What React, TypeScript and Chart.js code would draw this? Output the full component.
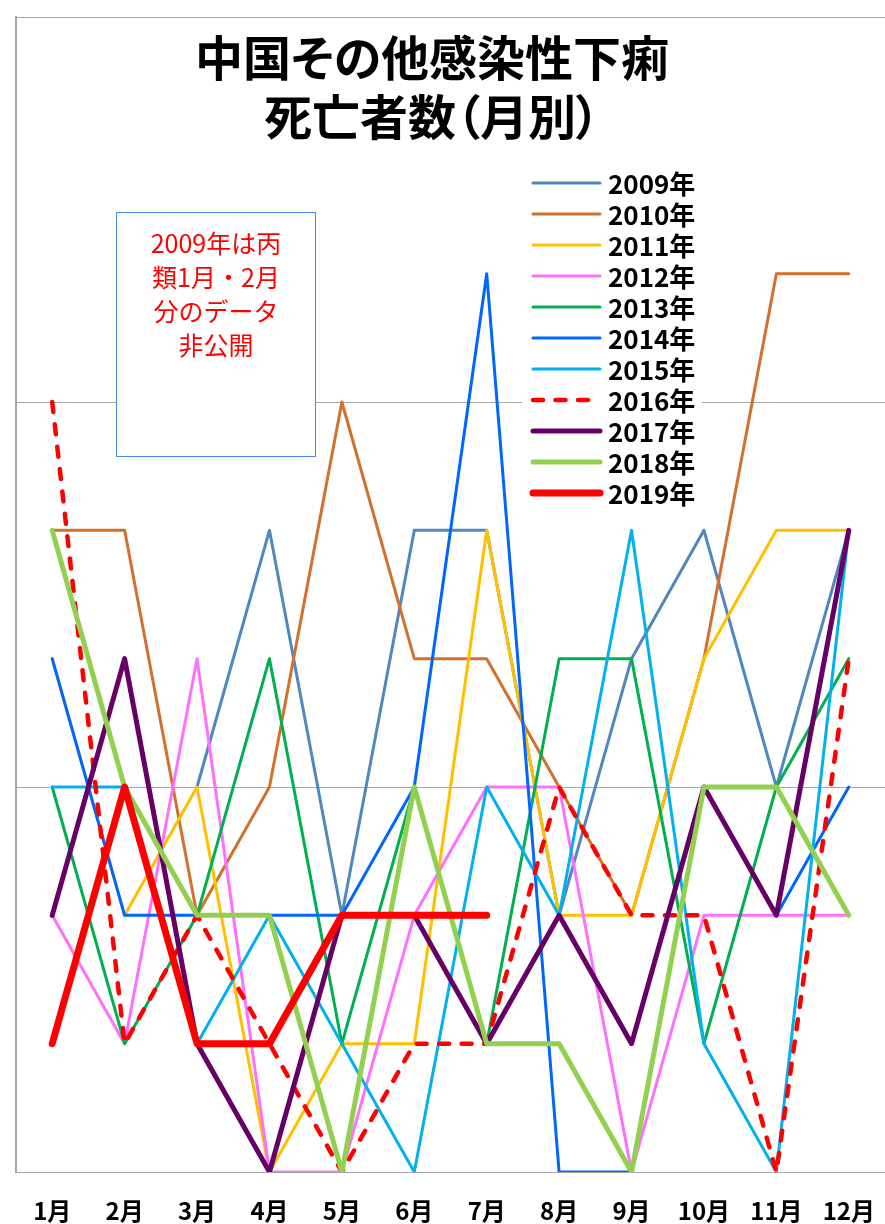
import React, { useEffect, useRef } from "react";
import { Chart, registerables } from "chart.js";

Chart.register(...registerables);

const months = ["1月", "2月", "3月", "4月", "5月", "6月", "7月", "8月", "9月", "10月", "11月", "12月"];

const yr2009 = [null, null, 3, 5, 2, 5, 5, 2, 4, 5, 3, 5];
const yr2010 = [5, 5, 2, 3, 6, 4, 4, 3, 2, 4, 7, 7];
const yr2011 = [4, 2, 3, 0, 1, 1, 5, 2, 2, 4, 5, 5];
const yr2012 = [2, 1, 4, 0, 0, 2, 3, 3, 0, 2, 2, 2];
const yr2013 = [3, 1, 2, 4, 1, 3, 1, 4, 4, 1, 3, 4];
const yr2014 = [4, 2, 2, 2, 2, 3, 7, 0, 0, 3, 2, 3];
const yr2015 = [3, 3, 1, 2, 1, 0, 3, 2, 5, 1, 0, 5];
const yr2016 = [6, 1, 2, 1, 0, 1, 1, 3, 2, 2, 0, 4];
const yr2017 = [2, 4, 1, 0, 2, 2, 1, 2, 1, 3, 2, 5];
const yr2018 = [5, 3, 2, 2, 0, 3, 1, 1, 0, 3, 3, 2];
const yr2019 = [1, 3, 1, 1, 2, 2, 2, null, null, null, null, null];

const seriesNames = ["2009年", "2010年", "2011年", "2012年", "2013年", "2014年", "2015年", "2016年", "2017年", "2018年", "2019年"];
const seriesValues = [yr2009, yr2010, yr2011, yr2012, yr2013, yr2014, yr2015, yr2016, yr2017, yr2018, yr2019];
const seriesColors = ["#5087BF", "#D2712E", "#FFC000", "#FF70FF", "#00B050", "#0066FF", "#00B0F0", "#FF0000", "#660066", "#92D050", "#FF0000"];
const seriesWidths = [3, 3, 3, 3, 3, 3, 3, 4.5, 5, 5, 7];

const titleLines = ["中国その他感染性下痢", "死亡者数（月別）"];
const noteLines = ["2009年は丙", "類1月・2月", "分のデータ", "非公開"];

const yMin = 0;
const yMax = 9;
const yStep = 3;

const W = 885;
const H = 1224;

const CJK = '"Noto Sans CJK JP", "Noto Sans", sans-serif';

const overlayPlugin = {
  id: "overlayPlugin",
  afterDraw(chart: any) {
    const ctx = chart.ctx as CanvasRenderingContext2D;
    ctx.save();
    // note box
    ctx.fillStyle = "#ffffff";
    ctx.fillRect(116, 212, 200, 245);
    ctx.strokeStyle = "#4A88E6";
    ctx.lineWidth = 1;
    ctx.strokeRect(116.5, 212.5, 199, 244);
    ctx.fillStyle = "#FF0000";
    ctx.font = `400 25px ${CJK}`;
    ctx.textAlign = "center";
    ctx.textBaseline = "middle";
    noteLines.forEach((t, i) => {
      ctx.fillText(t, 216, 243 + i * 34);
    });

    // legend
    ctx.fillStyle = "#ffffff";
    ctx.fillRect(522, 166, 180, 345);
    chart.data.datasets.forEach((ds: any, i: number) => {
      const y = 183 + i * 31;
      ctx.beginPath();
      ctx.strokeStyle = ds.borderColor;
      ctx.lineWidth = ds.borderWidth;
      ctx.lineCap = "round";
      ctx.setLineDash(ds.borderDash || []);
      ctx.moveTo(533, y);
      ctx.lineTo(600, y);
      ctx.stroke();
      ctx.setLineDash([]);
      ctx.fillStyle = "#000000";
      ctx.font = `700 26px ${CJK}`;
      ctx.textAlign = "left";
      ctx.textBaseline = "middle";
      ctx.fillText(ds.label, 608, y + 1);
    });
    ctx.restore();
  },
};

export default function App() {
  const canvasRef = useRef<HTMLCanvasElement | null>(null);

  useEffect(() => {
    document.body.style.margin = "0";
    document.documentElement.style.overflow = "hidden";
    document.body.style.overflow = "hidden";
    if (!canvasRef.current) return;
    const n = seriesNames.length;
    const datasets = seriesNames.map((name, i) => ({
      label: name,
      data: seriesValues[i],
      borderColor: seriesColors[i],
      backgroundColor: seriesColors[i],
      borderWidth: seriesWidths[i],
      borderDash: name === "2016年" ? [10, 12.5] : [],
      borderCapStyle: "round" as const,
      borderJoinStyle: "round" as const,
      pointRadius: 0,
      pointHoverRadius: 0,
      tension: 0,
      fill: false,
      spanGaps: false,
      order: n - i,
    }));
    const chart = new Chart(canvasRef.current, {
      type: "line",
      data: { labels: months, datasets },
      options: {
        animation: false,
        responsive: false,
        maintainAspectRatio: false,
        layout: { padding: { left: 16, top: 17, right: -2, bottom: 0 } },
        plugins: {
          legend: { display: false },
          title: { display: false },
          tooltip: { enabled: false },
        },
        scales: {
          x: {
            offset: true,
            grid: { display: false, drawTicks: false },
            border: { display: true, color: "#A6A6A6", width: 1 },
            ticks: {
              color: "#000000",
              font: { family: CJK, size: 24, weight: "bold" },
              padding: 24,
              autoSkip: false,
              maxRotation: 0,
            },
            afterFit: (scale: any) => {
              scale.height = 52;
              scale.paddingLeft = 0;
              scale.paddingRight = -2;
            },
          },
          y: {
            min: yMin,
            max: yMax,
            grid: { color: "#A6A6A6", lineWidth: 1, drawTicks: false },
            border: { display: true, color: "#A6A6A6", width: 2 },
            ticks: { display: false, stepSize: yStep },
          },
        },
      },
      plugins: [overlayPlugin],
    });
    return () => chart.destroy();
  }, []);

  return (
    <div style={{ position: "absolute", left: 0, top: 0, width: W, height: H, background: "#ffffff", overflow: "hidden" }}>
      <canvas
        ref={canvasRef}
        width={W}
        height={H}
        style={{ position: "absolute", left: 0, top: 0, width: W, height: H, display: "block" }}
      />
      <div
        style={{
          position: "absolute",
          left: 0,
          top: 26,
          width: 864,
          textAlign: "center",
          fontFamily: CJK,
          fontWeight: 700,
          fontSize: 48,
          lineHeight: "59px",
          color: "#000000",
          fontFeatureSettings: '"palt"',
          pointerEvents: "none",
        }}
      >
        {titleLines.map((t, i) => (
          <div key={i}>{t}</div>
        ))}
      </div>
    </div>
  );
}
